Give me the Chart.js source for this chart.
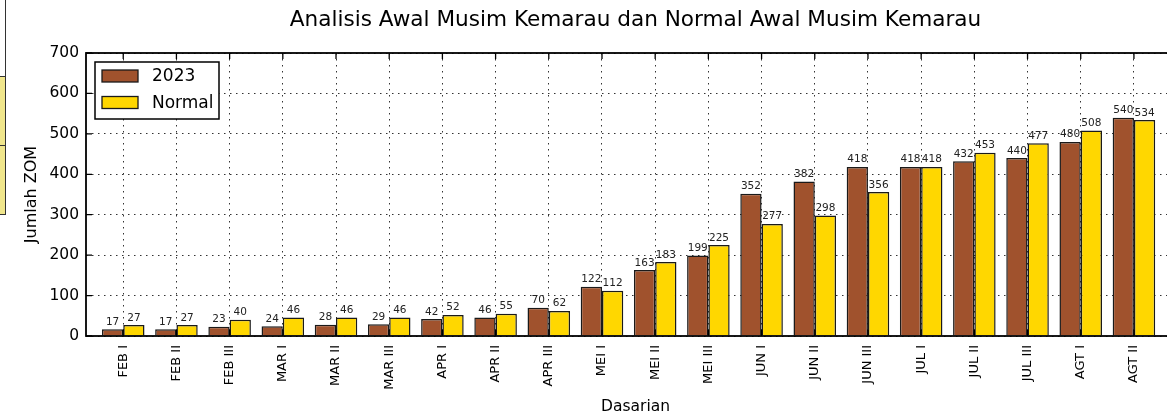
<!DOCTYPE html>
<html>
<head>
<meta charset="utf-8">
<script src="https://cdn.jsdelivr.net/npm/chart.js@4/dist/chart.umd.min.js"></script>
<style>
  html, body { margin: 0; padding: 0; background: #fff; overflow: hidden; }
  #wrap { position: relative; width: 1271px; height: 416px; }
  .cell { position: absolute; left: -3px; width: 7px; border: 1.5px solid #333; }
</style>
</head>
<body>
<div id="wrap">
  <canvas id="chart" width="1271" height="416"></canvas>
  <div class="cell" style="top:-3px;height:78px;background:#fff"></div>
  <div class="cell" style="top:76px;height:68px;background:#f0e68c"></div>
  <div class="cell" style="top:145px;height:68px;background:#f0e68c"></div>
</div>
<script>
const categories = [
  "FEB I", "FEB II", "FEB III", "MAR I", "MAR II", "MAR III",
  "APR I", "APR II", "APR III", "MEI I", "MEI II", "MEI III",
  "JUN I", "JUN II", "JUN III", "JUL I", "JUL II", "JUL III",
  "AGT I", "AGT II",
];
const values2023 = [17, 17, 23, 24, 28, 29, 42, 46, 70, 122, 163, 199, 352, 382, 418, 418, 432, 440, 480, 540];
const valuesNormal = [27, 27, 40, 46, 46, 46, 52, 55, 62, 112, 183, 225, 277, 298, 356, 418, 453, 477, 508, 534];
const yTicks = [0, 100, 200, 300, 400, 500, 600, 700];

const FONT = "'DejaVu Sans', sans-serif";
const COLORS = { y2023: "#a0522d", normal: "#ffd700" };
const GRID_DASH = [1.5, 4.5];

const toPoints = (arr) => arr.map((v, i) => ({ x: i, y: v }));

// frame around the plot plus matplotlib-style inward ticks
const framePlugin = {
  id: "frame",
  afterDatasetsDraw(chart) {
    const { ctx, chartArea: a, scales } = chart;
    ctx.save();
    ctx.strokeStyle = "#000";
    ctx.lineWidth = 1.3;
    ctx.beginPath();
    scales.x.ticks.forEach((t) => {
      const px = scales.x.getPixelForValue(t.value);
      ctx.moveTo(px, a.bottom); ctx.lineTo(px, a.bottom - 6);
      ctx.moveTo(px, a.top); ctx.lineTo(px, a.top + 6);
    });
    scales.y.ticks.forEach((t) => {
      const py = scales.y.getPixelForValue(t.value);
      ctx.moveTo(a.left, py); ctx.lineTo(a.left + 6, py);
      ctx.moveTo(a.right, py); ctx.lineTo(a.right - 6, py);
    });
    ctx.stroke();
    ctx.lineWidth = 1.8;
    ctx.strokeRect(a.left, a.top, a.right - a.left, a.bottom - a.top);
    ctx.restore();
  },
};

// numbers over each bar
const valueLabels = {
  id: "valueLabels",
  afterDatasetsDraw(chart) {
    const { ctx } = chart;
    ctx.save();
    ctx.font = `10.5px ${FONT}`;
    ctx.fillStyle = "#222";
    ctx.textAlign = "center";
    ctx.textBaseline = "bottom";
    chart.data.datasets.forEach((ds, di) => {
      chart.getDatasetMeta(di).data.forEach((bar, i) => {
        ctx.fillText(String(ds.data[i].y), bar.x, bar.y - 2);
      });
    });
    ctx.restore();
  },
};

// boxed legend in the upper left of the plot
const boxLegend = {
  id: "boxLegend",
  afterDraw(chart) {
    const { ctx, chartArea: a } = chart;
    const x = a.left + 9, y = a.top + 9;
    ctx.save();
    ctx.fillStyle = "#fff";
    ctx.fillRect(x, y, 124, 57);
    ctx.strokeStyle = "#000";
    ctx.lineWidth = 1.5;
    ctx.strokeRect(x, y, 124, 57);
    ctx.font = `17px ${FONT}`;
    ctx.textBaseline = "middle";
    chart.data.datasets.forEach((ds, i) => {
      const cy = y + 14 + i * 26.5;
      ctx.fillStyle = ds.backgroundColor;
      ctx.fillRect(x + 7, cy - 6, 36, 12);
      ctx.lineWidth = 1.3;
      ctx.strokeStyle = "#1a1a1a";
      ctx.strokeRect(x + 7, cy - 6, 36, 12);
      ctx.fillStyle = "#000";
      ctx.fillText(ds.label, x + 57, cy + 1);
    });
    ctx.restore();
  },
};

new Chart(document.getElementById("chart"), {
  type: "bar",
  data: {
    datasets: [
      {
        label: "2023",
        data: toPoints(values2023),
        backgroundColor: COLORS.y2023,
        borderColor: "#1a1a1a",
        borderWidth: 1.5,
      },
      {
        label: "Normal",
        data: toPoints(valuesNormal),
        backgroundColor: COLORS.normal,
        borderColor: "#1a1a1a",
        borderWidth: 1.5,
      },
    ],
  },
  options: {
    responsive: false,
    devicePixelRatio: 1,
    animation: false,
    categoryPercentage: 0.8,
    barPercentage: 1.0,
    layout: { padding: 0 },
    scales: {
      x: {
        type: "linear",
        min: -0.7,
        max: 19.96,
        offset: false,
        afterBuildTicks: (scale) => {
          scale.ticks = categories.map((_, i) => ({ value: i }));
        },
        afterFit: (scale) => { scale.height = 80; },
        grid: { offset: false, color: "#333", lineWidth: 1, drawTicks: false },
        border: { display: false, dash: GRID_DASH },
        ticks: {
          color: "#000",
          font: { family: FONT, size: 13 },
          minRotation: 90,
          maxRotation: 90,
          padding: 9,
          autoSkip: false,
          callback: (v) => categories[v] ?? "",
        },
        title: {
          display: true,
          text: "Dasarian",
          color: "#000",
          font: { family: FONT, size: 15.5 },
          padding: { top: 0, bottom: 0 },
        },
      },
      y: {
        min: 0,
        max: 700,
        afterBuildTicks: (scale) => {
          scale.ticks = yTicks.map((v) => ({ value: v }));
        },
        afterFit: (scale) => { scale.width = 86; },
        grid: { color: "#333", lineWidth: 1, drawTicks: false },
        border: { display: false, dash: GRID_DASH },
        ticks: {
          color: "#000",
          font: { family: FONT, size: 15.5 },
          padding: 7,
        },
        title: {
          display: true,
          text: "Jumlah ZOM",
          color: "#000",
          font: { family: FONT, size: 16 },
          padding: { top: 22, bottom: 0 },
        },
      },
      // empty right-hand gutter, keeps the plot centred under the title
      gutter: {
        type: "linear",
        position: "right",
        afterFit: (scale) => { scale.width = 86; },
        grid: { display: false },
        border: { display: false },
        ticks: { display: false },
      },
    },
    plugins: {
      legend: { display: false },
      tooltip: { enabled: false },
      title: {
        display: true,
        text: "Analisis Awal Musim Kemarau dan Normal Awal Musim Kemarau",
        color: "#000",
        font: { family: FONT, size: 21.6, weight: "normal" },
        padding: { top: 7.6, bottom: 19.48 },
      },
    },
  },
  plugins: [framePlugin, valueLabels, boxLegend],
});
</script>
</body>
</html>
